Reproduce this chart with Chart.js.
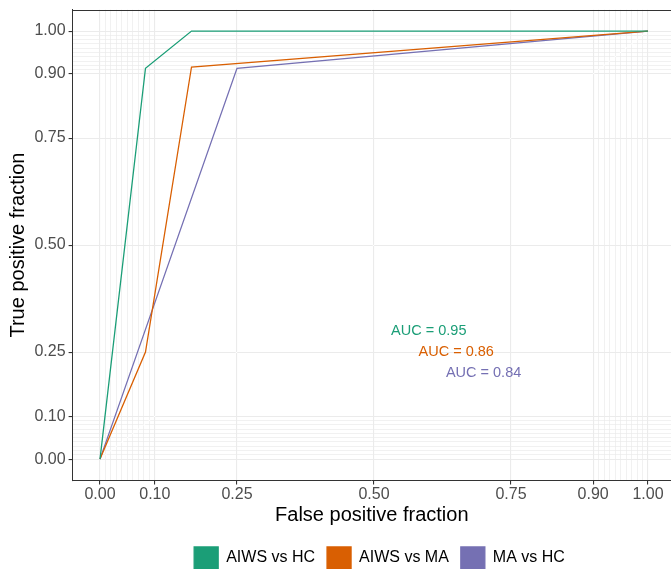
<!DOCTYPE html>
<html>
<head>
<meta charset="utf-8">
<script src="https://cdn.jsdelivr.net/npm/chart.js@4/dist/chart.umd.min.js"></script>
<style>
html,body{margin:0;padding:0;background:#fff;overflow:hidden;}
#wrap{width:671px;height:569px;position:relative;}
</style>
</head>
<body>
<div id="wrap"><canvas id="c"></canvas></div>
<script>
// Series names
const seriesNames = ['AIWS vs HC', 'AIWS vs MA', 'MA vs HC'];
const seriesColors = ['#1B9E77', '#D95F02', '#7570B3'];
// ROC points (false positive fraction, true positive fraction)
const fprAIWSvsHC = [0, 0.083, 0.167, 1];
const tprAIWSvsHC = [0, 0.913, 1, 1];
const fprAIWSvsMA = [0, 0.083, 0.167, 1];
const tprAIWSvsMA = [0, 0.25, 0.916, 1];
const fprMAvsHC = [0, 0.25, 1];
const tprMAvsHC = [0, 0.913, 1];
// AUC labels
const aucLabels = ['AUC = 0.95', 'AUC = 0.86', 'AUC = 0.84'];
const aucX = [0.60, 0.65, 0.70];
const aucY = [0.30, 0.25, 0.20];
// Axis ticks
const majorTicks = [0, 0.1, 0.25, 0.5, 0.75, 0.9, 1];
const minorTicks = [0.01,0.02,0.03,0.04,0.05,0.06,0.07,0.08,0.09,0.91,0.92,0.93,0.94,0.95,0.96,0.97,0.98,0.99];
const refLine = [0, 1];

const allTicks = majorTicks.concat(minorTicks).sort((a,b)=>a-b);
const isMajor = v => majorTicks.some(m => Math.abs(m - v) < 1e-9);
const FONT = "'Liberation Sans', Arial, Helvetica, sans-serif";

function pts(xs, ys){ return xs.map((x,i)=>({x:x, y:ys[i]})); }

const datasets = [
  {label: seriesNames[0], data: pts(fprAIWSvsHC, tprAIWSvsHC), borderColor: seriesColors[0], backgroundColor: seriesColors[0]},
  {label: seriesNames[1], data: pts(fprAIWSvsMA, tprAIWSvsMA), borderColor: seriesColors[1], backgroundColor: seriesColors[1]},
  {label: seriesNames[2], data: pts(fprMAvsHC, tprMAvsHC), borderColor: seriesColors[2], backgroundColor: seriesColors[2]},
].map(d => Object.assign(d, {showLine:true, borderWidth:1.3, pointRadius:0, tension:0, order:1}));
datasets.push({label:'ref', data: pts(refLine, refLine), borderColor:'#ffffff', backgroundColor:'#ffffff', showLine:true, borderWidth:1, pointRadius:0, order:5});

const extras = {
  id: 'extras',
  afterLayout(chart){
    const l = chart.legend;
    if (l) { l.left = 88; }
  },
  afterDraw(chart){
    const {ctx, chartArea, scales} = chart;
    ctx.save();
    ctx.strokeStyle = '#333333';
    ctx.lineWidth = 1;
    ctx.beginPath();
    ctx.moveTo(chartArea.left, Math.round(chartArea.top) + 0.5);
    ctx.lineTo(chartArea.right, Math.round(chartArea.top) + 0.5);
    ctx.stroke();
    ctx.font = '14.5px ' + FONT;
    ctx.textAlign = 'center';
    ctx.textBaseline = 'middle';
    aucLabels.forEach((t,i)=>{
      ctx.fillStyle = seriesColors[i];
      ctx.fillText(t, scales.x.getPixelForValue(aucX[i]), scales.y.getPixelForValue(aucY[i]));
    });
    ctx.restore();
  }
};

function gridOpts(){
  return {
    color: '#ebebeb',
    lineWidth: c => (c.tick && isMajor(c.tick.value)) ? 1.1 : 0.7,
    tickColor: c => (c.tick && isMajor(c.tick.value)) ? '#333333' : 'rgba(0,0,0,0)',
    tickLength: 4,
    drawTicks: true
  };
}

new Chart(document.getElementById('c'), {
  type: 'scatter',
  data: {datasets},
  options: {
    responsive: true,
    maintainAspectRatio: false,
    animation: false,
    layout: {padding: {top: 9.65, left: 0, right: 0, bottom: -10}},
    plugins: {
      tooltip: {enabled:false},
      legend: {
        position: 'bottom',
        labels: {
          filter: item => item.text !== 'ref',
          boxWidth: 24, boxHeight: 22, padding: 12,
          color: '#000000',
          font: {family: FONT, size: 16}
        }
      }
    },
    scales: {
      x: {
        type: 'linear', min: -0.05, max: 1.042,
        afterBuildTicks: s => { s.ticks = allTicks.map(v=>({value:v})); },
        afterFit: s => { s.height = 54.5; s.paddingLeft = 0; s.paddingRight = 0; },
        ticks: {autoSkip:false, maxRotation:0, padding:2, color:'#4d4d4d', font:{family:FONT, size:16, lineHeight:1},
          callback: v => isMajor(v) ? v.toFixed(2) : ''},
        grid: gridOpts(),
        border: {color:'#333333', width:1},
        title: {display:true, text:'False positive fraction', color:'#000000', font:{family:FONT, size:20, lineHeight:1}, padding:{top:0, bottom:10}}
      },
      y: {
        type: 'linear', min: -0.05, max: 1.05,
        afterBuildTicks: s => { s.ticks = allTicks.map(v=>({value:v})); },
        afterFit: s => { s.width = 72.6; s.paddingTop = 0; s.paddingBottom = 0; },
        ticks: {autoSkip:false, padding:3, color:'#4d4d4d', font:{family:FONT, size:16, lineHeight:1},
          callback: v => isMajor(v) ? v.toFixed(2) : ''},
        grid: gridOpts(),
        border: {color:'#333333', width:1},
        title: {display:true, text:'True positive fraction', color:'#000000', font:{family:FONT, size:20, lineHeight:1}, padding:{top:8, bottom:0}}
      }
    }
  },
  plugins: [extras]
});
</script>
</body>
</html>
